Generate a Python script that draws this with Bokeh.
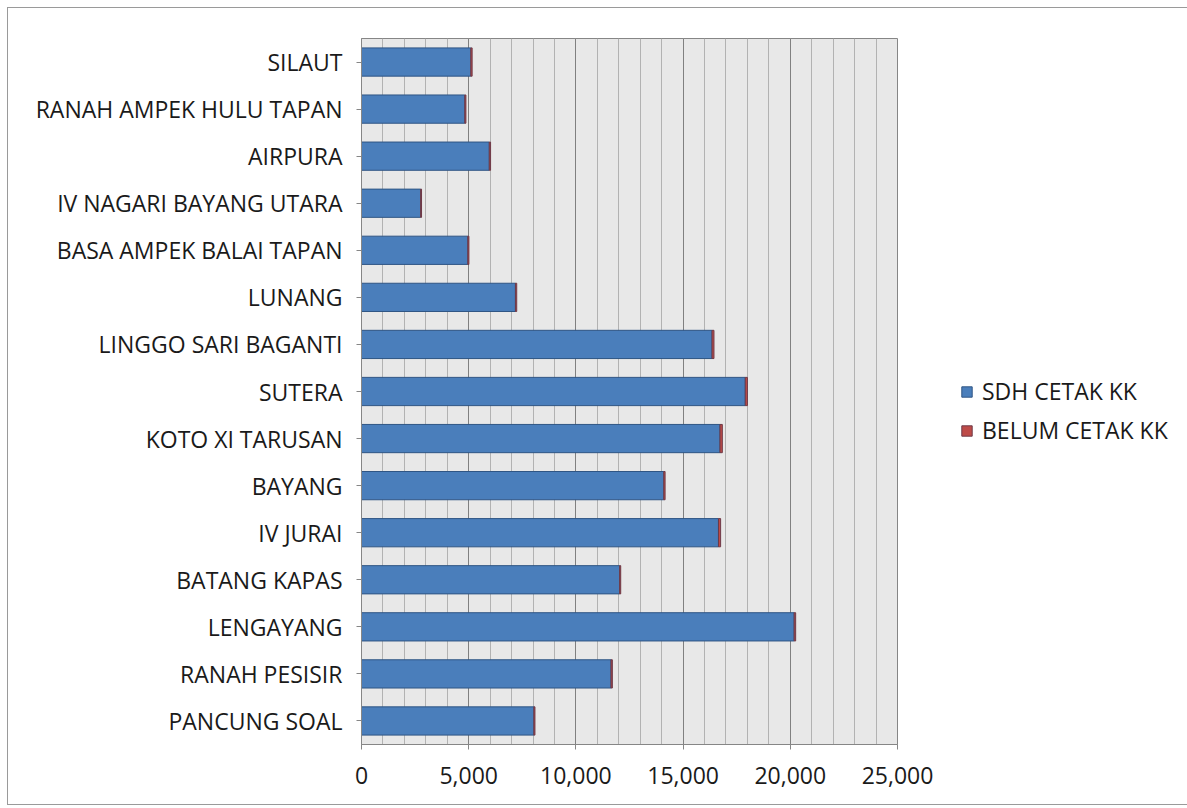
from bokeh.plotting import figure
from bokeh.models import (ColumnDataSource, FactorRange, Range1d, SingleIntervalTicker,
                          NumeralTickFormatter, Legend)
from bokeh.embed import file_html
from bokeh.resources import INLINE

# Data (top to bottom as shown in the chart)
categories = ["SILAUT", "RANAH AMPEK HULU TAPAN", "AIRPURA", "IV NAGARI BAYANG UTARA",
              "BASA AMPEK BALAI TAPAN", "LUNANG", "LINGGO SARI BAGANTI", "SUTERA",
              "KOTO XI TARUSAN", "BAYANG", "IV JURAI", "BATANG KAPAS", "LENGAYANG",
              "RANAH PESISIR", "PANCUNG SOAL"]
sdh_cetak = [5100, 4820, 5960, 2760, 4960, 7180, 16350, 17900, 16720, 14100, 16650,
             12040, 20180, 11640, 8040]
belum_cetak = [60, 50, 60, 40, 50, 60, 90, 100, 110, 60, 100, 50, 70, 60, 50]
series_names = ["SDH CETAK KK", "BELUM CETAK KK"]
x_ticks_interval = 5000

FONT = "Open Sans"

source = ColumnDataSource(dict(kec=categories, sdh=sdh_cetak, belum=belum_cetak))

p = figure(frame_width=536, frame_height=706, output_backend="svg", toolbar_location=None,
           y_range=FactorRange(factors=list(reversed(categories))),
           x_range=Range1d(0, 25000),
           min_border_left=353, min_border_right=283, min_border_top=30, min_border_bottom=60)
p.styles = {"border": "1px solid #9a9a9a", "margin": "7px 0 0 7px"}

renderers = p.hbar_stack(["sdh", "belum"], y="kec", height=0.6, source=source,
                         fill_color=["#4a7ebb", "#be4b48"],
                         line_color=["#2f5584", "#6e3a48"], line_width=1)

p.background_fill_color = "#e8e8e8"
p.border_fill_color = "white"
p.outline_line_color = "#868686"

p.xaxis.ticker = SingleIntervalTicker(interval=x_ticks_interval, num_minor_ticks=5)
p.xaxis.formatter = NumeralTickFormatter(format="0,0")
p.xgrid.grid_line_color = "#808080"
p.xgrid.minor_grid_line_color = "#b2b2b2"
p.ygrid.grid_line_color = None

for ax in (p.xaxis, p.yaxis):
    ax.axis_line_color = "#868686"
    ax.major_tick_line_color = "#868686"
    ax.minor_tick_line_color = None
    ax.major_tick_in = 0
    ax.major_tick_out = 5
    ax.major_label_text_font = FONT
    ax.major_label_text_font_size = "23px"
    ax.major_label_text_color = "#1a1a1a"

p.xaxis.major_label_standoff = 17
p.yaxis.major_label_standoff = 14

legend = Legend(items=[(series_names[0], [renderers[0]]), (series_names[1], [renderers[1]])],
                location=(63, 298), orientation="vertical")
legend.border_line_color = None
legend.background_fill_alpha = 0
legend.padding = 0
legend.margin = 0
legend.glyph_width = 13
legend.glyph_height = 13
legend.label_text_font = FONT
legend.label_text_font_size = "23px"
legend.label_text_color = "#1a1a1a"
legend.label_standoff = 9
legend.spacing = 7
p.add_layout(legend, "right")

open("out.html", "w").write(file_html(p, INLINE))
